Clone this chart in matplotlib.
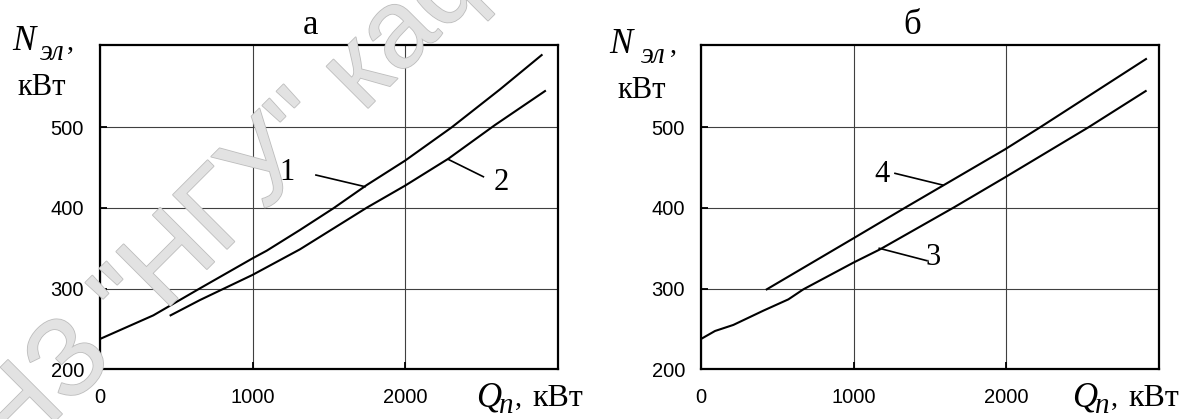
import matplotlib
matplotlib.use("Agg")
import matplotlib.pyplot as plt
import matplotlib.patheffects as pe

# ---------------- data ----------------
q1 = [0, 350, 656, 1000, 1093, 1311, 1530, 1749, 2000, 2306, 2623, 2896]
n1 = [237.6, 266.9, 300.4, 337.5, 347, 372.7, 399.5, 428.4, 458.6, 499.9, 547, 589.5]
q2 = [463, 656, 999, 1311, 1749, 2000, 2284, 2590, 2918]
n2 = [266.9, 285.9, 316.9, 348.7, 400.3, 427.6, 461, 502.8, 544.9]
q3 = [0, 92, 212, 409, 573, 671, 999, 1174, 1655, 1993, 2540, 2916]
n3 = [237.6, 247.5, 255, 272.7, 286.7, 299.1, 332.2, 348.7, 400.3, 437.9, 499.9, 544.9]
q4 = [431, 999, 1349, 1600, 1993, 2223, 2918]
n4 = [299.1, 362.3, 401.5, 429.2, 472.6, 499.9, 584.6]

curve_labels_a = ["1", "2"]
label_pos_a = [(1224, 434.6), (2634, 422.2)]
leaders_a = [((1416, 1738), (440.8, 426.4)), ((2514, 2284), (438.7, 460.2))]
curve_labels_b = ["4", "3"]
label_pos_b = [(1189, 432.5), (1523, 329.2)]
leaders_b = [((1272, 1585), (442.9, 428.4)), ((1480, 1169), (334.7, 350.0))]

xticks = [0, 1000, 2000]
yticks = [200, 300, 400, 500]
xlim = (0, 3000)
ylim = (200, 602)
titles = ["а", "б"]

# ---------------- figure ----------------
W, H = 1192, 419
fig = plt.figure(figsize=(W / 100, H / 100), dpi=100)

def px(x, y):
    return x / W, 1 - y / H

SANS = "Liberation Sans"
SERIF = "Liberation Serif"

# watermark
wm_kw = dict(fontsize=80, family=SANS, color="#e2e2e2", rotation=45,
             rotation_mode="anchor", va="baseline", zorder=0,
             path_effects=[pe.withStroke(linewidth=1.2, foreground="#bdbdbd")])
fig.text(*px(136, 340), '"НГУ" кафедра', ha="left", **wm_kw)
fig.text(*px(116, 360), "ДВНЗ", ha="right", **wm_kw)

ax_a = fig.add_axes([100 / W, 1 - 369.3 / H, 457.5 / W, 324.3 / H])
ax_b = fig.add_axes([701 / W, 1 - 369.3 / H, 457.5 / W, 324.3 / H])

for ax in (ax_a, ax_b):
    ax.set_facecolor("none")
    ax.set_xlim(*xlim)
    ax.set_ylim(*ylim)
    ax.set_xticks(xticks)
    ax.set_yticks(yticks)
    ax.grid(True, color="#404040", linewidth=0.8)
    ax.set_axisbelow(True)
    for s in ax.spines.values():
        s.set_linewidth(1.6)
    ax.tick_params(direction="in", length=5, width=1.3, labelsize=14.5)
    ax.tick_params(axis="x", pad=13.5)
    ax.tick_params(axis="y", pad=11.5)
    for lab in ax.get_xticklabels() + ax.get_yticklabels():
        lab.set_family(SANS)

ax_a.plot(q1, n1, color="black", lw=1.5)
ax_a.plot(q2, n2, color="black", lw=1.5)
ax_b.plot(q3, n3, color="black", lw=1.5)
ax_b.plot(q4, n4, color="black", lw=1.5)

for ax, labs, poss, leads in ((ax_a, curve_labels_a, label_pos_a, leaders_a),
                              (ax_b, curve_labels_b, label_pos_b, leaders_b)):
    for t, (x, y) in zip(labs, poss):
        ax.text(x, y, t, family=SERIF, fontsize=22, ha="center", va="baseline")
    for xs, ys in leads:
        ax.plot(xs, ys, color="black", lw=1.2)

# titles
fig.text(*px(311, 34), titles[0], family=SERIF, fontsize=25, ha="center", va="baseline")
fig.text(*px(912, 34), titles[1], family=SERIF, fontsize=25, ha="center", va="baseline")

# y-axis labels
for (nx, ny, ex, ey, cx, kx, ky) in ((12, 50, 40, 60, 67, 17, 95),
                                     (609, 53, 641, 63, 670, 617, 98)):
    fig.text(*px(nx, ny), "N", family=SERIF, style="italic", fontsize=25, va="baseline")
    fig.text(*px(ex, ey), "эл", family=SERIF, style="italic", fontsize=21, va="baseline")
    fig.text(*px(cx, ny), ",", family=SERIF, fontsize=20, va="baseline")
    fig.text(*px(kx, ky), "кВт", family=SERIF, fontsize=22, va="baseline")

# x-axis labels
for (qx, nx_, cx, kx) in ((476, 499, 515, 532), (1072, 1095, 1111, 1128)):
    fig.text(*px(qx, 406), "Q", family=SERIF, style="italic", fontsize=25, va="baseline")
    fig.text(*px(nx_, 413), "n", family=SERIF, style="italic", fontsize=21, va="baseline")
    fig.text(*px(cx, 406), ",", family=SERIF, fontsize=20, va="baseline")
    fig.text(*px(kx, 406), "кВт", family=SERIF, fontsize=23, va="baseline")

fig.savefig("out.png", dpi=100)
